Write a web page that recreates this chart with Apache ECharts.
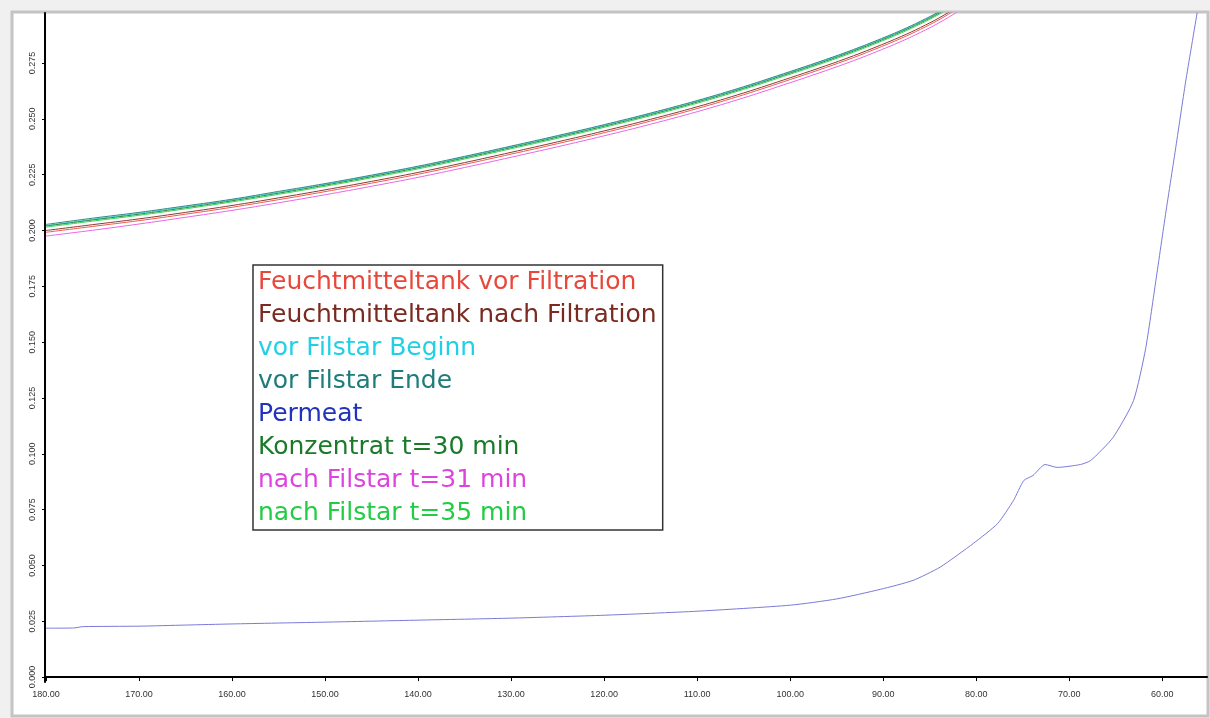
<!DOCTYPE html>
<html>
<head>
<meta charset="utf-8">
<title>Spektren</title>
<script src="https://cdn.jsdelivr.net/npm/echarts@6/dist/echarts.min.js"></script>
<style>
html, body {margin: 0; padding: 0; background: #f0f0f0;}
#spektrum {width: 1210px; height: 718px;}
</style>
</head>
<body>
<div id="spektrum"></div>
<script>
// Wellenlaenge (x), gemeinsame Stuetzstellen fuer die oberen Kurven
var xWerte = [180, 175, 170, 165, 160, 155, 150, 145, 140, 135, 130, 125, 120, 115, 110, 105, 100, 97, 94, 91, 88, 86, 84, 82, 80];

var tankVor = [0.1992, 0.2018, 0.2044, 0.2073, 0.2104, 0.2138, 0.2174, 0.2212, 0.2252, 0.2296, 0.2342, 0.2389, 0.2438, 0.2490, 0.2546, 0.2608, 0.2676, 0.2718, 0.2762, 0.2810, 0.2862, 0.2901, 0.2944, 0.2994, 0.3050];
var tankNach = [0.2000, 0.2026, 0.2052, 0.2081, 0.2112, 0.2146, 0.2182, 0.2220, 0.2260, 0.2304, 0.2350, 0.2397, 0.2446, 0.2498, 0.2554, 0.2616, 0.2684, 0.2726, 0.2770, 0.2818, 0.2870, 0.2909, 0.2952, 0.3002, 0.3058];
var filstarBeginn = [0.2022, 0.2050, 0.2077, 0.2106, 0.2137, 0.2171, 0.2207, 0.2245, 0.2285, 0.2329, 0.2375, 0.2422, 0.2471, 0.2523, 0.2579, 0.2641, 0.2709, 0.2751, 0.2795, 0.2843, 0.2895, 0.2934, 0.2977, 0.3027, 0.3083];
var filstarEnde = [0.2027, 0.2055, 0.2081, 0.2110, 0.2140, 0.2175, 0.2210, 0.2248, 0.2288, 0.2332, 0.2378, 0.2425, 0.2474, 0.2526, 0.2582, 0.2644, 0.2712, 0.2754, 0.2798, 0.2846, 0.2898, 0.2937, 0.2980, 0.3030, 0.3086];
var konzentrat = [0.2020, 0.2047, 0.2073, 0.2102, 0.2133, 0.2167, 0.2203, 0.2241, 0.2281, 0.2325, 0.2371, 0.2418, 0.2467, 0.2519, 0.2575, 0.2637, 0.2705, 0.2747, 0.2791, 0.2839, 0.2891, 0.2930, 0.2973, 0.3023, 0.3079];
var filstar31 = [0.1975, 0.2001, 0.2029, 0.2059, 0.2090, 0.2124, 0.2160, 0.2198, 0.2238, 0.2282, 0.2328, 0.2375, 0.2424, 0.2476, 0.2532, 0.2594, 0.2662, 0.2704, 0.2748, 0.2796, 0.2848, 0.2887, 0.2930, 0.2980, 0.3036];
var filstar35 = [0.2015, 0.2042, 0.2068, 0.2097, 0.2128, 0.2162, 0.2198, 0.2236, 0.2276, 0.2320, 0.2366, 0.2413, 0.2462, 0.2514, 0.2570, 0.2632, 0.2700, 0.2742, 0.2786, 0.2834, 0.2886, 0.2925, 0.2968, 0.3018, 0.3074];

// Permeat hat eigene Stuetzstellen
var permeatX = [180, 177, 176, 170, 165, 160, 150, 140, 130, 120, 110, 100, 95, 90.3, 86.8, 83.9, 80.3, 77.7, 76.0, 74.9, 73.9, 72.6, 71.3, 68.8, 67.7, 65.3, 63.1, 61.8, 60.75, 59.7, 58.6, 57.5, 56.2, 55.5];
var permeatY = [0.0219, 0.0220, 0.0226, 0.0228, 0.0233, 0.0238, 0.0246, 0.0255, 0.0264, 0.0277, 0.0295, 0.0322, 0.0350, 0.0393, 0.0433, 0.0492, 0.0599, 0.0688, 0.0791, 0.0880, 0.0903, 0.0952, 0.0939, 0.0952, 0.0970, 0.1073, 0.1238, 0.1470, 0.1760, 0.2060, 0.2360, 0.2665, 0.2990, 0.3160];

// Achsbeschriftungen
var xTicks = [180, 170, 160, 150, 140, 130, 120, 110, 100, 90, 80, 70, 60];
var yTicks = [0, 0.025, 0.05, 0.075, 0.1, 0.125, 0.15, 0.175, 0.2, 0.225, 0.25, 0.275];

var namen = ['Feuchtmitteltank vor Filtration', 'Feuchtmitteltank nach Filtration', 'vor Filstar Beginn', 'vor Filstar Ende', 'Permeat', 'Konzentrat t=30 min', 'nach Filstar t=31 min', 'nach Filstar t=35 min'];
var farben = ['#e8473a', '#7a2a20', '#22d0e6', '#1f7c7c', '#2233bb', '#1a7a2a', '#dd44dd', '#22cc44'];
var linienFarben = ['#ee5a50', '#8c3a30', '#40d8ea', '#2f8888', '#7a7ad8', '#2a8a3a', '#e866e8', '#3ad25a'];

var spektrumChart = null;

function paare(xs, ys) {
	return xs.map(function (x, i) { return [x, ys[i]]; });
}

function initChart() {
	spektrumChart = echarts.init(document.getElementById('spektrum'));

	var werte = [tankVor, tankNach, filstarBeginn, filstarEnde, null, konzentrat, filstar31, filstar35];
	var series = [];
	for (var i = 0; i < namen.length; i++) {
		var daten = (i === 4) ? paare(permeatX, permeatY) : paare(xWerte, werte[i]);
		series.push({
			name: namen[i],
			type: 'line',
			data: daten,
			symbol: 'none',
			smooth: i === 4 ? 0.2 : 0.4,
			lineStyle: {width: 1, color: linienFarben[i]},
			itemStyle: {color: linienFarben[i]},
			z: i === 4 ? 3 : 2
		});
	}

	// Legende ohne Symbole, Text in Kurvenfarbe
	var legendData = namen.map(function (n, i) {
		return {name: n, textStyle: {color: farben[i]}};
	});

	var option = {
		backgroundColor: '#f0f0f0',
		animation: false,
		graphic: [{
			type: 'rect',
			z: -10,
			silent: true,
			shape: {x: 12, y: 12, width: 1196, height: 704},
			style: {fill: '#ffffff', stroke: '#c4c4c4', lineWidth: 3}
		}],
		grid: {left: 45, right: 3, top: 13, bottom: 36},
		legend: {
			orient: 'vertical',
			left: 253,
			top: 265,
			icon: 'none',
			itemWidth: 0,
			itemHeight: 25,
			itemGap: 8,
			padding: [5, 6, 4, 0],
			selectedMode: false,
			backgroundColor: '#ffffff',
			borderColor: '#333333',
			borderWidth: 1.5,
			textStyle: {fontFamily: 'DejaVu Sans', fontSize: 25, lineHeight: 25},
			data: legendData
		},
		xAxis: {
			type: 'value',
			inverse: true,
			min: 55.2,
			max: 180.1,
			axisLine: {lineStyle: {color: '#000', width: 2}},
			axisTick: {length: 4, customValues: xTicks, lineStyle: {color: '#000'}},
			axisLabel: {
				customValues: xTicks,
				margin: 8,
				color: '#333',
				fontSize: 9,
				fontFamily: 'Liberation Sans',
				formatter: function (v) { return v.toFixed(2); }
			},
			splitLine: {show: false}
		},
		yAxis: {
			type: 'value',
			min: -0.0022,
			max: 0.2974,
			axisLine: {show: true, lineStyle: {color: '#000', width: 2}},
			axisTick: {show: true, length: 3, customValues: yTicks, lineStyle: {color: '#000'}},
			axisLabel: {
				customValues: yTicks,
				rotate: 90,
				margin: 8,
				color: '#333',
				fontSize: 9,
				fontFamily: 'Liberation Sans',
				formatter: function (v) { return v.toFixed(3); }
			},
			splitLine: {show: false}
		},
		series: series
	};

	spektrumChart.setOption(option);
	window.addEventListener('resize', function () {
		spektrumChart.resize();
	});
}

initChart();
</script>
</body>
</html>
